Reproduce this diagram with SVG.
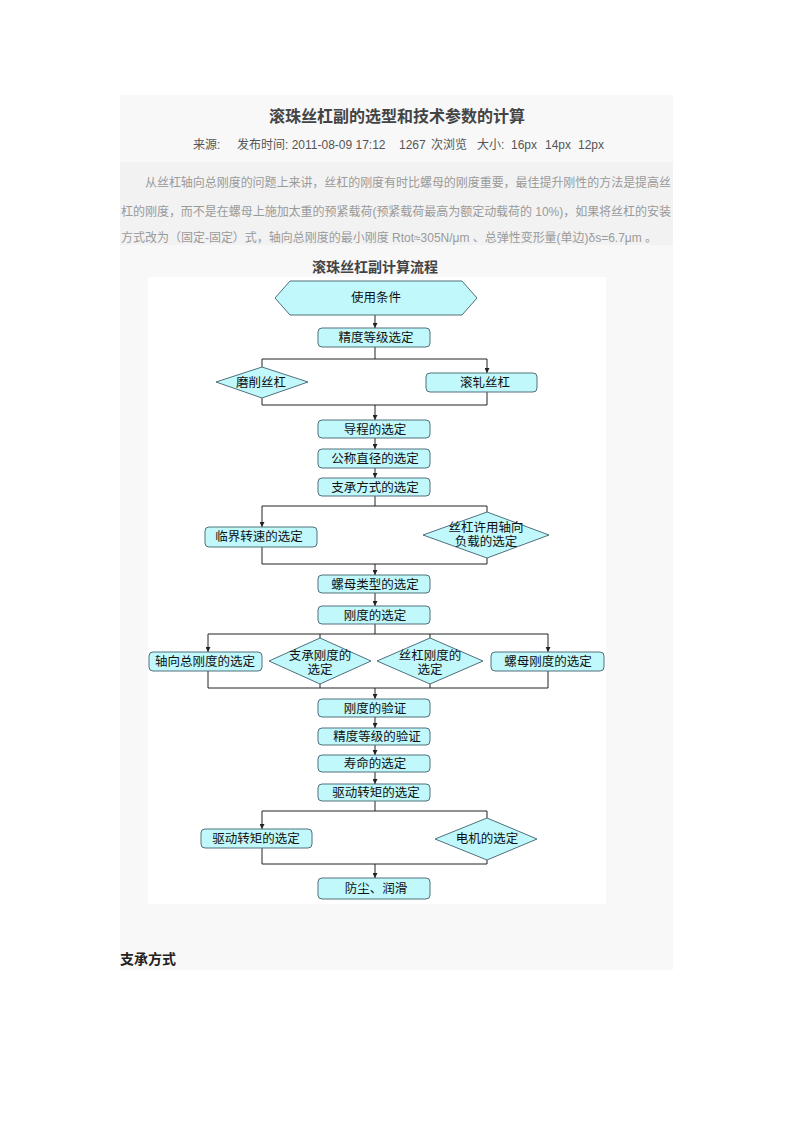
<svg xmlns="http://www.w3.org/2000/svg" width="793" height="1122" viewBox="0 0 793 1122">
<style>
.t{font-family:"Liberation Sans","Noto Sans CJK SC",sans-serif;}
.node{fill:#c0f8fb;stroke:#50707c;stroke-width:1;}
.lbl{font-family:"Liberation Sans","Noto Sans CJK SC",sans-serif;font-size:12.5px;fill:#111;text-anchor:middle;}
.con{fill:none;stroke:#222;stroke-width:1;}
.para{font-family:"Liberation Sans","Noto Sans CJK SC",sans-serif;font-size:12px;fill:#9a9a9a;}
</style>
<defs>
<marker id="ah" viewBox="0 0 6 6" refX="6" refY="3" markerWidth="5" markerHeight="5" orient="auto" markerUnits="userSpaceOnUse"><path d="M0,0 L6,3 L0,6 z" fill="#222"/></marker>
</defs>
<rect x="0" y="0" width="793" height="1122" fill="#ffffff"/>
<rect x="120" y="95" width="553" height="875" fill="#f8f8f8"/>
<rect x="120" y="162" width="553" height="83" fill="#f2f2f2"/>
<rect x="148" y="277" width="458" height="627" fill="#ffffff"/>

<g id="header">
<text class="t" x="397" y="122" font-size="16" font-weight="bold" fill="#444" text-anchor="middle">滚珠丝杠副的选型和技术参数的计算</text>
<text class="t" font-size="12" fill="#555" y="149"><tspan x="193">来源:</tspan><tspan x="237">发布时间: 2011-08-09 17:12</tspan><tspan x="399">1267</tspan><tspan x="431">次浏览</tspan><tspan x="477">大小:</tspan><tspan x="511">16px</tspan><tspan x="545">14px</tspan><tspan x="578">12px</tspan></text>
<text class="para" x="145" y="187" textLength="526" lengthAdjust="spacing">从丝杠轴向总刚度的问题上来讲，丝杠的刚度有时比螺母的刚度重要，最佳提升刚性的方法是提高丝</text>
<text class="para" x="121" y="216" textLength="550" lengthAdjust="spacing">杠的刚度，而不是在螺母上施加太重的预紧载荷(预紧载荷最高为额定动载荷的 10%)，如果将丝杠的安装</text>
<text class="para" x="121" y="242" textLength="536" lengthAdjust="spacing">方式改为（固定-固定）式，轴向总刚度的最小刚度 Rtot≈305N/μm 、总弹性变形量(单边)δs=6.7μm 。</text>
<text class="t" x="375" y="272" font-size="14" font-weight="bold" fill="#444" text-anchor="middle">滚珠丝杠副计算流程</text>
<text class="t" x="120" y="964" font-size="14" font-weight="bold" fill="#222">支承方式</text>
</g>

<g id="connectors">
<path class="con" d="M375,315 V328" marker-end="url(#ah)"/>
<path class="con" d="M375,347 V359 M262,359 H487"/>
<path class="con" d="M262,359 V367"/>
<path class="con" d="M487,359 V373" marker-end="url(#ah)"/>
<path class="con" d="M262,398 V405 M487,392 V405 M262,405 H487"/>
<path class="con" d="M375,405 V420" marker-end="url(#ah)"/>
<path class="con" d="M375,438 V449" marker-end="url(#ah)"/>
<path class="con" d="M375,468 V478" marker-end="url(#ah)"/>
<path class="con" d="M375,496 V506 M262,506 H487 M487,506 V512"/>
<path class="con" d="M262,506 V527" marker-end="url(#ah)"/>
<path class="con" d="M262,547 V564 M487,558 V564 M262,564 H487"/>
<path class="con" d="M375,564 V575" marker-end="url(#ah)"/>
<path class="con" d="M375,593 V606" marker-end="url(#ah)"/>
<path class="con" d="M375,624 V634 M208,634 H548 M320,634 V638 M430,634 V638"/>
<path class="con" d="M208,634 V652" marker-end="url(#ah)"/>
<path class="con" d="M548,634 V652" marker-end="url(#ah)"/>
<path class="con" d="M208,671 V688 M320,684 V688 M430,684 V688 M548,671 V688 M208,688 H548"/>
<path class="con" d="M375,688 V699" marker-end="url(#ah)"/>
<path class="con" d="M375,717 V728" marker-end="url(#ah)"/>
<path class="con" d="M375,745 V755" marker-end="url(#ah)"/>
<path class="con" d="M375,772 V784" marker-end="url(#ah)"/>
<path class="con" d="M375,801 V811 M262,811 H487 M487,811 V818"/>
<path class="con" d="M262,811 V829" marker-end="url(#ah)"/>
<path class="con" d="M262,848 V864 M487,860 V864 M262,864 H487"/>
<path class="con" d="M375,864 V878" marker-end="url(#ah)"/>
</g>

<g id="n-start"><polygon class="node" points="275,298 290,281 462,281 477,298 462,315 290,315"/><text class="lbl" x="376" y="302">使用条件</text></g>
<g id="n-jingdu"><rect class="node" x="318" y="328" width="112" height="19" rx="4"/><text class="lbl" x="376" y="342">精度等级选定</text></g>
<g id="n-moxiao"><polygon class="node" points="216,382 262,367 308,382 262,398"/><text class="lbl" x="261" y="387">磨削丝杠</text></g>
<g id="n-gunzha"><rect class="node" x="426" y="373" width="111" height="19" rx="4"/><text class="lbl" x="485" y="387">滚轧丝杠</text></g>
<g id="n-daocheng"><rect class="node" x="318" y="420" width="112" height="18" rx="4"/><text class="lbl" x="375" y="434">导程的选定</text></g>
<g id="n-gongcheng"><rect class="node" x="318" y="449" width="112" height="19" rx="4"/><text class="lbl" x="375" y="463">公称直径的选定</text></g>
<g id="n-zhicheng"><rect class="node" x="318" y="478" width="112" height="18" rx="4"/><text class="lbl" x="375" y="492">支承方式的选定</text></g>
<g id="n-linjie"><rect class="node" x="205" y="527" width="112" height="20" rx="4"/><text class="lbl" x="259" y="541">临界转速的选定</text></g>
<g id="n-xuyong"><polygon class="node" points="423,535 487,512 549,535 487,558"/><text class="lbl" x="486" y="532">丝杠许用轴向</text><text class="lbl" x="486" y="546">负载的选定</text></g>
<g id="n-luomu"><rect class="node" x="318" y="575" width="112" height="18" rx="4"/><text class="lbl" x="375" y="589">螺母类型的选定</text></g>
<g id="n-gangdu"><rect class="node" x="318" y="606" width="112" height="18" rx="4"/><text class="lbl" x="375" y="620">刚度的选定</text></g>
<g id="n-zhouxiang"><rect class="node" x="149" y="652" width="113" height="19" rx="4"/><text class="lbl" x="205" y="666">轴向总刚度的选定</text></g>
<g id="n-zcgangdu"><polygon class="node" points="269,661 320,638 371,661 320,684"/><text class="lbl" x="320" y="660">支承刚度的</text><text class="lbl" x="320" y="674">选定</text></g>
<g id="n-sggangdu"><polygon class="node" points="377,661 430,638 483,661 430,684"/><text class="lbl" x="430" y="660">丝杠刚度的</text><text class="lbl" x="430" y="674">选定</text></g>
<g id="n-lmgangdu"><rect class="node" x="491" y="652" width="113" height="19" rx="4"/><text class="lbl" x="548" y="666">螺母刚度的选定</text></g>
<g id="n-yanzheng"><rect class="node" x="318" y="699" width="112" height="18" rx="4"/><text class="lbl" x="375" y="713">刚度的验证</text></g>
<g id="n-jdyanzheng"><rect class="node" x="318" y="728" width="112" height="17" rx="4"/><text class="lbl" x="377" y="741">精度等级的验证</text></g>
<g id="n-shouming"><rect class="node" x="318" y="755" width="112" height="17" rx="4"/><text class="lbl" x="375" y="768">寿命的选定</text></g>
<g id="n-qudong"><rect class="node" x="318" y="784" width="112" height="17" rx="4"/><text class="lbl" x="376" y="797">驱动转矩的选定</text></g>
<g id="n-qudong2"><rect class="node" x="201" y="829" width="111" height="19" rx="4"/><text class="lbl" x="256" y="843">驱动转矩的选定</text></g>
<g id="n-dianji"><polygon class="node" points="435,839 487,818 537,839 487,860"/><text class="lbl" x="487" y="843">电机的选定</text></g>
<g id="n-fangchen"><rect class="node" x="318" y="878" width="112" height="21" rx="4"/><text class="lbl" x="376" y="893">防尘、润滑</text></g>
</svg>
